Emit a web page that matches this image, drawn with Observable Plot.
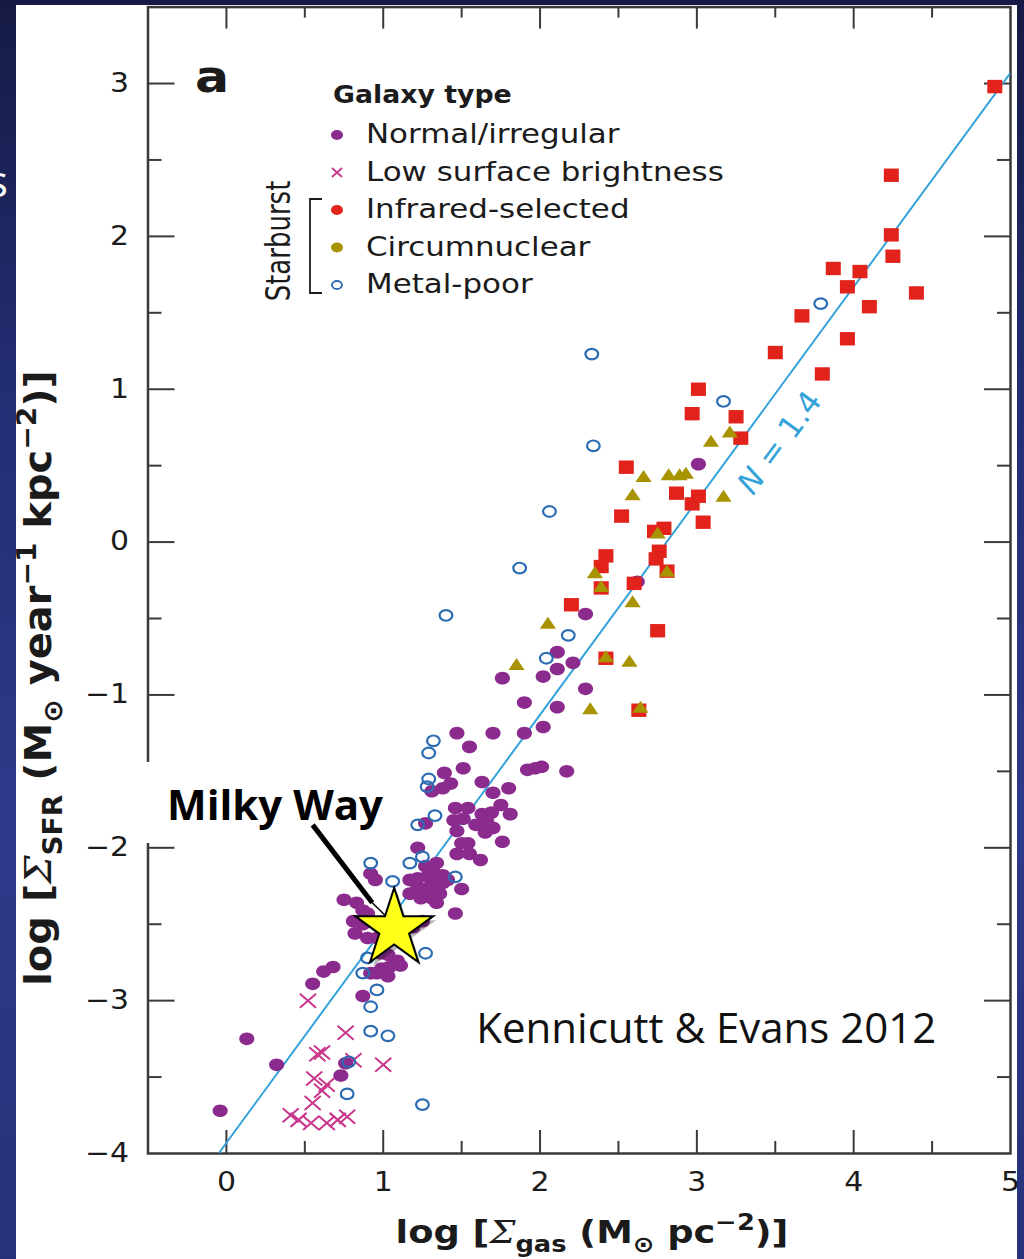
<!DOCTYPE html>
<html><head><meta charset="utf-8">
<script src="https://cdn.jsdelivr.net/npm/d3@7"></script>
<script src="https://cdn.jsdelivr.net/npm/@observablehq/plot@0.6"></script>
<style>
html,body{margin:0;padding:0;width:1024px;height:1259px;overflow:hidden;}
body{position:relative;background:linear-gradient(180deg,#161a44 0%,#232d72 30%,#2e3a8a 65%,#27327a 100%);font-family:"DejaVu Sans",sans-serif;}
#slide-s{position:absolute;left:-13px;top:150px;color:#fff;font:44px "Open Sans";}
#panel{position:absolute;left:16px;top:5px;width:1001px;height:1254px;background:#fff;}
#panel svg{display:block;}
#overlay{position:absolute;left:0;top:0;pointer-events:none;}
</style></head><body>
<div id="slide-s">s</div>
<div id="panel"></div>
<svg id="overlay" width="1024" height="1259"></svg>
<script>
// ---------------- data (log Σgas, log ΣSFR) ----------------
const normalIrregular = [
  [3.01,0.51],[2.29,-0.47],[2.62,-0.26],[2.11,-0.72],[2.21,-0.79],[2.11,-0.83],[2.02,-0.88],[1.76,-0.89],
  [2.29,-0.96],[1.90,-1.05],[2.11,-1.08],[2.02,-1.21],[1.47,-1.25],[1.70,-1.25],[1.90,-1.25],[1.55,-1.34],
  [1.92,-1.49],[1.97,-1.48],[2.01,-1.47],[2.17,-1.50],[1.51,-1.48],[1.39,-1.51],[1.63,-1.57],[1.70,-1.64],
  [1.80,-1.61],[1.31,-1.63],[1.38,-1.61],[1.43,-1.58],[1.46,-1.74],[1.54,-1.74],[1.45,-1.82],[1.51,-1.81],
  [1.63,-1.78],[1.69,-1.77],[1.75,-1.72],[1.81,-1.78],[1.66,-1.83],[1.70,-1.87],[1.59,-1.85],[1.27,-1.84],
  [1.47,-1.89],[1.65,-1.90],[1.50,-1.97],[1.54,-1.97],[1.76,-1.96],[1.47,-2.04],[1.55,-2.04],[1.62,-2.08],
  [1.22,-2.00],[1.27,-2.12],[1.31,-2.13],[1.34,-2.10],[0.92,-2.17],[0.95,-2.21],[1.17,-2.21],[1.22,-2.20],
  [1.28,-2.19],[1.33,-2.17],[1.38,-2.18],[1.22,-2.26],[1.27,-2.27],[1.32,-2.25],[1.38,-2.23],[1.41,-2.21],
  [1.17,-2.30],[1.24,-2.33],[1.31,-2.33],[1.36,-2.30],[1.50,-2.27],[1.34,-2.36],[1.46,-2.43],[0.75,-2.34],
  [0.83,-2.36],[0.87,-2.41],[0.90,-2.43],[0.81,-2.48],[0.87,-2.50],[0.82,-2.56],[0.90,-2.59],[0.96,-2.59],
  [1.19,-2.52],[1.25,-2.48],[0.98,-2.69],[1.03,-2.70],[1.09,-2.74],[1.11,-2.77],[1.04,-2.78],[0.99,-2.79],
  [0.96,-2.82],[1.03,-2.84],[0.92,-2.82],[0.68,-2.78],[0.62,-2.81],[0.55,-2.89],[0.87,-2.97],[0.13,-3.25],
  [0.32,-3.42],[0.76,-3.41],[0.73,-3.49],[-0.04,-3.72]
];
const lowSurfaceBrightness = [
  [0.52,-3.00],[0.76,-3.21],[0.58,-3.35],[0.61,-3.34],[0.81,-3.39],[1.00,-3.42],[0.56,-3.51],[0.64,-3.55],
  [0.61,-3.59],[0.55,-3.67],[0.41,-3.75],[0.46,-3.78],[0.54,-3.80],[0.64,-3.80],[0.71,-3.78],[0.77,-3.76]
];
const infraredSelected = [
  [4.90,2.98],[4.24,2.40],[4.24,2.01],[4.25,1.87],[3.87,1.79],[4.04,1.77],[3.96,1.67],[4.40,1.63],
  [4.10,1.54],[3.67,1.48],[3.96,1.33],[3.50,1.24],[3.80,1.10],[3.01,1.00],[2.97,0.84],[3.25,0.82],
  [3.28,0.68],[2.55,0.49],[2.87,0.32],[3.01,0.30],[2.97,0.25],[2.52,0.17],[3.04,0.13],[2.79,0.09],
  [2.73,0.07],[2.42,-0.09],[2.76,-0.06],[2.74,-0.11],[2.39,-0.16],[2.81,-0.19],[2.39,-0.30],[2.60,-0.27],
  [2.20,-0.41],[2.75,-0.58],[2.42,-0.76],[2.63,-1.10]
];
const circumnuclear = [
  [3.21,0.71],[3.09,0.65],[2.66,0.42],[2.82,0.43],[2.89,0.43],[2.93,0.44],[2.59,0.30],[3.17,0.29],
  [2.75,0.05],[2.35,-0.21],[2.39,-0.30],[2.81,-0.20],[2.59,-0.40],[2.05,-0.54],[2.42,-0.76],[2.57,-0.79],
  [1.85,-0.81],[2.32,-1.10],[2.64,-1.09]
];
const metalPoor = [
  [2.33,1.23],[2.34,0.63],[2.06,0.20],[1.87,-0.17],[1.40,-0.48],[2.18,-0.61],[2.04,-0.76],[3.79,1.56],
  [3.17,0.92],[1.32,-1.30],[1.29,-1.38],[1.29,-1.55],[1.28,-1.60],[1.33,-1.79],[1.22,-1.85],[0.92,-2.10],
  [1.17,-2.10],[1.25,-2.06],[1.46,-2.19],[1.06,-2.22],[1.27,-2.69],[0.90,-2.72],[0.87,-2.82],[0.96,-2.93],
  [0.92,-3.04],[0.92,-3.20],[1.03,-3.23],[0.78,-3.40],[0.77,-3.61],[1.25,-3.68]
];
const milkyWay = [[1.07,-2.53]];
const fitSlope = 1.4, fitIntercept = -3.93, fitRange = [-0.05, 5.0];
const fitLabel = [{x: 3.53, y: 0.65, text: "N = 1.4"}];
const sourceLabel = [{x: 3.06, y: -3.19, text: "Kennicutt & Evans 2012"}];
const milkyWayLabel = [{x: 0.31, y: -1.73, text: "Milky Way"}];
const pointerThick = [{x1: 0.55, y1: -1.85, x2: 0.93, y2: -2.36}];
const pointerThin = [{x1: 0.93, y1: -2.36, x2: 1.01, y2: -2.44}];
const xMajor = [0,1,2,3,4,5], xMinor = [0.5,1.5,2.5,3.5,4.5];
const yMajor = [-4,-3,-2,-1,0,1,2,3], yMinor = [-3.5,-2.5,-1.5,-0.5,0.5,1.5,2.5];
const legendTitle = "Galaxy type";
const legendItems = ["Normal/irregular","Low surface brightness","Infrared-selected","Circumnuclear","Metal-poor"];

// ---------------- styling ----------------
const C = {purple:"#8c2b8e", magenta:"#c9378c", red:"#e1231b", olive:"#a89300", blue:"#2b6cb3", line:"#35a3da", axis:"#3a3a3a", text:"#1b1b1b"};
const SX = 1.2;
const ellipse = {draw(c, size){const r=Math.sqrt(size/Math.PI), rx=r*SX, ry=r, k=0.5523;
  c.moveTo(rx,0); c.bezierCurveTo(rx,ry*k,rx*k,ry,0,ry); c.bezierCurveTo(-rx*k,ry,-rx,ry*k,-rx,0);
  c.bezierCurveTo(-rx,-ry*k,-rx*k,-ry,0,-ry); c.bezierCurveTo(rx*k,-ry,rx,-ry*k,rx,0); c.closePath();}};
const square = {draw(c, size){const r=Math.sqrt(size/Math.PI), hx=r*1.12, hy=r; c.rect(-hx,-hy,2*hx,2*hy);}};
const triangle = {draw(c, size){const r=Math.sqrt(size/Math.PI); c.moveTo(0,-r*4/3); c.lineTo(r*1.35,r*2/3); c.lineTo(-r*1.35,r*2/3); c.closePath();}};
const cross = {draw(c, size){const r=Math.sqrt(size/Math.PI), hx=r*1.15, hy=r; c.moveTo(-hx,-hy); c.lineTo(hx,hy); c.moveTo(-hx,hy); c.lineTo(hx,-hy);}};
const fmt = d => (d < 0 ? "\u2212" : "") + Math.abs(d);
const fitLine = fitRange.map(x => ({x, y: fitSlope * x + fitIntercept}));
const px = d => d[0], py = d => d[1];

const plot = Plot.plot({
  width: 1001, height: 1254,
  marginLeft: 131.5, marginRight: 7, marginTop: 1.6, marginBottom: 106,
  x: {domain: [-0.5, 5]},
  y: {domain: [-4, 3.5]},
  style: {fontFamily: "DejaVu Sans", background: "white", overflow: "visible", color: C.text},
  marks: [
    Plot.frame({stroke: C.axis, strokeWidth: 2.5}),
    Plot.axisX(xMajor, {anchor: "bottom", tickSize: 0, tickPadding: 19, tickFormat: fmt, fontSize: 26, label: null}),
    Plot.axisY(yMajor, {anchor: "left", tickSize: 0, tickPadding: 19, tickFormat: fmt, fontSize: 26, label: null}),
    Plot.axisX(xMajor.slice(0,-1), {anchor: "bottom", tickSize: -23, fill: "none", stroke: C.axis, strokeWidth: 2, label: null}),
    Plot.axisX(xMinor, {anchor: "bottom", tickSize: -12, fill: "none", stroke: C.axis, strokeWidth: 2, label: null}),
    Plot.axisX(xMajor.slice(0,-1), {anchor: "top", tickSize: -21, fill: "none", stroke: C.axis, strokeWidth: 2, label: null}),
    Plot.axisX(xMinor, {anchor: "top", tickSize: -10, fill: "none", stroke: C.axis, strokeWidth: 2, label: null}),
    Plot.axisY(yMajor.slice(1), {anchor: "left", tickSize: -27, fill: "none", stroke: C.axis, strokeWidth: 2, label: null}),
    Plot.axisY(yMinor, {anchor: "left", tickSize: -14, fill: "none", stroke: C.axis, strokeWidth: 2, label: null}),
    Plot.axisY(yMajor.slice(1), {anchor: "right", tickSize: -27, fill: "none", stroke: C.axis, strokeWidth: 2, label: null}),
    Plot.axisY(yMinor, {anchor: "right", tickSize: -14, fill: "none", stroke: C.axis, strokeWidth: 2, label: null}),
    Plot.line(fitLine, {x: "x", y: "y", stroke: C.line, strokeWidth: 2, clip: true}),
    Plot.dot(lowSurfaceBrightness, {x: px, y: py, symbol: cross, r: 7, stroke: C.magenta, strokeWidth: 2, fill: "none"}),
    Plot.dot(normalIrregular, {x: px, y: py, symbol: ellipse, r: 6.3, fill: C.purple, stroke: "none"}),
    Plot.dot(infraredSelected, {x: px, y: py, symbol: square, r: 6.7, fill: C.red, stroke: "none"}),
    Plot.dot(circumnuclear, {x: px, y: py, symbol: triangle, r: 6, fill: C.olive, stroke: "none"}),
    Plot.dot(metalPoor, {x: px, y: py, symbol: ellipse, r: 5.3, fill: "none", stroke: C.blue, strokeWidth: 2.2}),
    Plot.text(fitLabel, {x: "x", y: "y", text: "text", rotate: -53.7, fill: C.line, fontSize: 31, textAnchor: "middle", lineAnchor: "middle"}),
    Plot.text(sourceLabel, {x: "x", y: "y", text: "text", fontFamily: "Open Sans", fontSize: 42, fill: "#111", textAnchor: "middle", lineAnchor: "middle"}),
    Plot.text(milkyWayLabel, {x: "x", y: "y", text: "text", fontFamily: "Open Sans", fontWeight: "bold", fontSize: 42, fill: "#000", textAnchor: "middle", lineAnchor: "middle"}),
    Plot.link(pointerThick, {x1: "x1", y1: "y1", x2: "x2", y2: "y2", stroke: "#000", strokeWidth: 5}),
    Plot.link(pointerThin, {x1: "x1", y1: "y1", x2: "x2", y2: "y2", stroke: "#000", strokeWidth: 1.5}),
    Plot.dot(milkyWay, {x: px, y: py, symbol: "star", r: 24.5, fill: "#000", fillOpacity: 0.28, stroke: "none", dx: 3, dy: 4}),
    Plot.dot(milkyWay, {x: px, y: py, symbol: "star", r: 24.5, fill: "#ffff1a", stroke: "#000", strokeWidth: 2})
  ]
});
document.getElementById("panel").appendChild(plot);

const NS = "http://www.w3.org/2000/svg";
// horizontal stretch of tick labels (the source figure is stretched horizontally)
function stretch(t, s) {
  const tr = t.getAttribute("transform");
  if (tr) t.setAttribute("transform", tr + ` scale(${s},1)`);
  else { const x = +t.getAttribute("x") || 0, y = +t.getAttribute("y") || 0;
    t.removeAttribute("x"); t.removeAttribute("y"); t.setAttribute("transform", `translate(${x},${y}) scale(${s},1)`); }
}
plot.querySelectorAll('g[aria-label$="tick label"] text').forEach(t => stretch(t, 1.15));
const texts = [...plot.querySelectorAll("text")];
// italic N in the slope label
const nl = texts.find(t => t.textContent === "N = 1.4");
if (nl) { nl.textContent = ""; const a = document.createElementNS(NS,"tspan"); a.setAttribute("font-style","italic"); a.textContent = "N";
  const b = document.createElementNS(NS,"tspan"); b.textContent = " = 1.4"; nl.appendChild(a); nl.appendChild(b); }
// white box behind the Milky Way label
const mw = texts.find(t => t.textContent === "Milky Way");
if (mw) { const pr = plot.getBoundingClientRect(), br = mw.getBoundingClientRect();
  const r = document.createElementNS(NS,"rect");
  r.setAttribute("x", br.left - pr.left - 25); r.setAttribute("y", br.top - pr.top - 13);
  r.setAttribute("width", br.width + 49); r.setAttribute("height", br.height + 24); r.setAttribute("fill","#fff");
  const g = mw.closest("g"); g.parentNode.insertBefore(r, g); }

// ---------------- overlay: panel letter, legend, axis titles ----------------
const ov = d3.select("#overlay").attr("font-family","DejaVu Sans").attr("fill", C.text);
ov.append("text").attr("transform","translate(195,92) scale(1.15,1)").attr("font-weight","bold").attr("font-size",44).text("a");
ov.append("text").attr("transform","translate(333,103) scale(1.07,1)").attr("font-weight","bold").attr("font-size",25).text(legendTitle);
const markerDraw = [
  g => g.append("ellipse").attr("rx",6).attr("ry",5).attr("fill",C.purple),
  g => g.append("path").attr("d","M-5,-4.5L5,4.5M-5,4.5L5,-4.5").attr("stroke",C.magenta).attr("stroke-width",1.8).attr("fill","none"),
  g => g.append("ellipse").attr("rx",6).attr("ry",5).attr("fill",C.red),
  g => g.append("ellipse").attr("rx",6).attr("ry",5).attr("fill",C.olive),
  g => g.append("ellipse").attr("rx",5).attr("ry",4).attr("fill","none").attr("stroke",C.blue).attr("stroke-width",1.8)
];
legendItems.forEach((label, i) => {
  const base = 143 + 37.5 * i;
  markerDraw[i](ov.append("g").attr("transform", `translate(337,${base - 8})`));
  ov.append("text").attr("transform", `translate(366,${base}) scale(1.145,1)`).attr("font-size",27).text(label);
});
ov.append("path").attr("d","M322,199H310V293H322").attr("fill","none").attr("stroke",C.text).attr("stroke-width",1.8);
ov.append("text").attr("transform","translate(290,241) scale(1.3,1) rotate(-90)").attr("font-size",26).attr("text-anchor","middle").text("Starburst");

function axisTitle(transform, size, parts) {
  const t = ov.append("text").attr("transform", transform).attr("font-size", size).attr("font-weight","bold").attr("text-anchor","middle");
  let shift = 0;
  parts.forEach(([s, kind]) => {
    const ts = t.append("tspan").text(s);
    let target = 0;
    if (kind === "sub") { target = size * 0.28; ts.attr("font-size", size * 0.7); }
    if (kind === "sup") { target = -size * 0.4; ts.attr("font-size", size * 0.7); }
    if (kind === "sigma") { ts.attr("font-family","DejaVu Serif").attr("font-style","italic").attr("font-weight","normal"); }
    if (target !== shift) { ts.attr("dy", target - shift); shift = target; }
  });
}
axisTitle("translate(592,1243) scale(1.15,1)", 32, [["log [",""],["\u03A3","sigma"],["gas","sub"],[" (M",""],["\u2299","sub"],[" pc",""],["\u22122","sup"],[")]",""]]);
axisTitle("translate(51,678) scale(0.95,1) rotate(-90)", 40, [["log [",""],["\u03A3","sigma"],["SFR","sub"],[" (M",""],["\u2299","sub"],[" year",""],["\u22121","sup"],[" kpc",""],["\u22122","sup"],[")]",""]]);
</script></body></html>
